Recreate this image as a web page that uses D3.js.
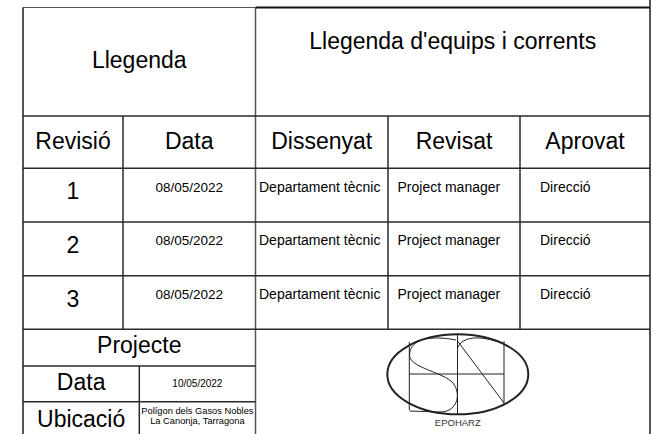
<!DOCTYPE html>
<html>
<head>
<meta charset="utf-8">
<script src="https://cdn.jsdelivr.net/npm/d3@7/dist/d3.min.js"></script>
<style>
  html, body { margin: 0; padding: 0; background: #fff; }
  svg { display: block; }
  text { font-family: "Liberation Sans", Arial, Helvetica, sans-serif; fill: #000; }
</style>
</head>
<body>
<svg id="chart" width="652" height="434"></svg>
<script>
// ---------------- DATA ----------------
const titleLeft = "Llegenda";
const titleRight = "Llegenda d'equips i corrents";
const headers = ["Revisió", "Data", "Dissenyat", "Revisat", "Aprovat"];
const revisions = ["1", "2", "3"];
const revisionDates = ["08/05/2022", "08/05/2022", "08/05/2022"];
const designers = ["Departament tècnic", "Departament tècnic", "Departament tècnic"];
const reviewers = ["Project manager", "Project manager", "Project manager"];
const approvers = ["Direcció", "Direcció", "Direcció"];
const projectLabel = "Projecte";
const projectFields = ["Data", "Ubicació"];
const projectValues = [["10/05/2022"], ["Polígon dels Gasos Nobles", "La Canonja, Tarragona"]];
const logoName = "EPOHARZ";

// ---------------- LAYOUT ----------------
const W = 652, H = 434;
const xLeft = 23, xRight = 650, yTop = 7.5, yBottom = H;
const colEdges = [23, 123, 255.5, 388, 520, 650];
const yTitleBottom = 116, yHeaderBottom = 168.3, yRowsBottom = 329.3;
const yProjectBottom = 366, yDataBottom = 401.7, xSubSplit = 139.3;
const lineColor = "#2a2a2a";

const svg = d3.select("#chart");

// scales
const colScale = d3.scaleOrdinal().domain(d3.range(colEdges.length)).range(colEdges);
const rowScale = d3.scaleBand().domain(revisions).range([yHeaderBottom, yRowsBottom]).paddingInner(0).paddingOuter(0);
const colCenter = i => (colScale(i) + colScale(i + 1)) / 2;

// ---------------- GRID LINES ----------------
const lines = [];
lines.push({x1: xLeft, y1: yTop, x2: colEdges[2], y2: yTop, w: 1.2, c: "#555"});
lines.push({x1: colEdges[2], y1: yTop, x2: xRight, y2: yTop, w: 2, c: "#111"});
lines.push({x1: xLeft, y1: yTop, x2: xLeft, y2: yBottom, w: 1.6, c: lineColor});
lines.push({x1: xRight, y1: 0, x2: xRight, y2: yBottom, w: 1.6, c: lineColor});
lines.push({x1: colEdges[2], y1: yTop, x2: colEdges[2], y2: yBottom, w: 1.5, c: "#555"});
[yTitleBottom, yHeaderBottom, ...revisions.slice(1).map(r => rowScale(r)), yRowsBottom].forEach(y => {
  lines.push({x1: xLeft, y1: y, x2: xRight, y2: y, w: 1.5, c: lineColor});
});
[1, 3, 4].forEach(i => {
  lines.push({x1: colScale(i), y1: yTitleBottom, x2: colScale(i), y2: yRowsBottom, w: 1.5, c: lineColor});
});
[yProjectBottom, yDataBottom].forEach(y => {
  lines.push({x1: xLeft, y1: y, x2: colEdges[2], y2: y, w: 1.5, c: lineColor});
});
lines.push({x1: xSubSplit, y1: yProjectBottom, x2: xSubSplit, y2: yBottom, w: 1.5, c: lineColor});

svg.append("g").selectAll("line").data(lines).join("line")
  .attr("x1", d => d.x1).attr("y1", d => d.y1)
  .attr("x2", d => d.x2).attr("y2", d => d.y2)
  .attr("stroke", d => d.c).attr("stroke-width", d => d.w);

// ---------------- TEXTS ----------------
const big = 23;
const g = svg.append("g");

g.append("text").attr("x", (xLeft + colEdges[2]) / 2).attr("y", 68)
  .attr("text-anchor", "middle").attr("font-size", big).text(titleLeft);
g.append("text").attr("x", (colEdges[2] + xRight) / 2).attr("y", 48.5)
  .attr("text-anchor", "middle").attr("font-size", big).text(titleRight);

g.selectAll("text.hdr").data(headers).join("text").attr("class", "hdr")
  .attr("x", (d, i) => colCenter(i)).attr("y", 148.5)
  .attr("text-anchor", "middle").attr("font-size", big).text(d => d);

g.selectAll("text.rev").data(revisions).join("text").attr("class", "rev")
  .attr("x", colCenter(0)).attr("y", d => rowScale(d) + 31)
  .attr("text-anchor", "middle").attr("font-size", big).text(d => d);

const small = 14;
g.selectAll("text.date").data(revisionDates).join("text").attr("class", "date")
  .attr("x", colCenter(1)).attr("y", (d, i) => rowScale(revisions[i]) + 23.5)
  .attr("text-anchor", "middle").attr("font-size", 13.5).text(d => d);
g.selectAll("text.des").data(designers).join("text").attr("class", "des")
  .attr("x", colScale(2) + 3.5).attr("y", (d, i) => rowScale(revisions[i]) + 23.5)
  .attr("font-size", small).text(d => d);
g.selectAll("text.revw").data(reviewers).join("text").attr("class", "revw")
  .attr("x", colScale(3) + 9.5).attr("y", (d, i) => rowScale(revisions[i]) + 23.5)
  .attr("font-size", small).text(d => d);
g.selectAll("text.apr").data(approvers).join("text").attr("class", "apr")
  .attr("x", colScale(4) + 20).attr("y", (d, i) => rowScale(revisions[i]) + 23.5)
  .attr("font-size", small).text(d => d);

g.append("text").attr("x", (xLeft + colEdges[2]) / 2).attr("y", 353)
  .attr("text-anchor", "middle").attr("font-size", big).text(projectLabel);
const fieldY = [390, 426.5];
g.selectAll("text.pf").data(projectFields).join("text").attr("class", "pf")
  .attr("x", (xLeft + xSubSplit) / 2).attr("y", (d, i) => fieldY[i])
  .attr("text-anchor", "middle").attr("font-size", big).text(d => d);
const valCx = (xSubSplit + colEdges[2]) / 2;
g.append("text").attr("x", valCx).attr("y", 387)
  .attr("text-anchor", "middle").attr("font-size", 10).text(projectValues[0][0]);
g.selectAll("text.loc").data(projectValues[1]).join("text").attr("class", "loc")
  .attr("x", valCx).attr("y", (d, i) => 414 + i * 9.5)
  .attr("text-anchor", "middle").attr("font-size", 9.3).text(d => d);

// ---------------- LOGO ----------------
const logo = svg.append("g").attr("fill", "none").attr("stroke", "#222");
const cx = 457.8, cy = 374.3;
logo.append("ellipse").attr("cx", cx).attr("cy", cy).attr("rx", 70.5).attr("ry", 40)
  .attr("stroke-width", 2);
const thin = 1;
const logoLines = [
  [409.3, 342, 409.3, 410],
  [457.5, 334.5, 457.5, 414],
  [504, 341, 504, 404],
  [409.3, 374, 504, 374],
  [457.5, 341, 504, 403]
];
logo.selectAll("line").data(logoLines).join("line")
  .attr("x1", d => d[0]).attr("y1", d => d[1]).attr("x2", d => d[2]).attr("y2", d => d[3])
  .attr("stroke-width", thin);
logo.append("path").attr("stroke-width", thin)
  .attr("d", "M456,340 C430,335 410,339 409.5,355 C409.5,367 438,371 451,381 C462,391 459,412 440,412 L409.5,411");
logo.append("path").attr("stroke-width", thin)
  .attr("d", "M457.5,348 C462,337 478,334 504,344");
svg.append("text").attr("x", cx).attr("y", 425.5).attr("text-anchor", "middle")
  .attr("font-size", 9.5).style("fill", "#333").text(logoName);
</script>
</body>
</html>
